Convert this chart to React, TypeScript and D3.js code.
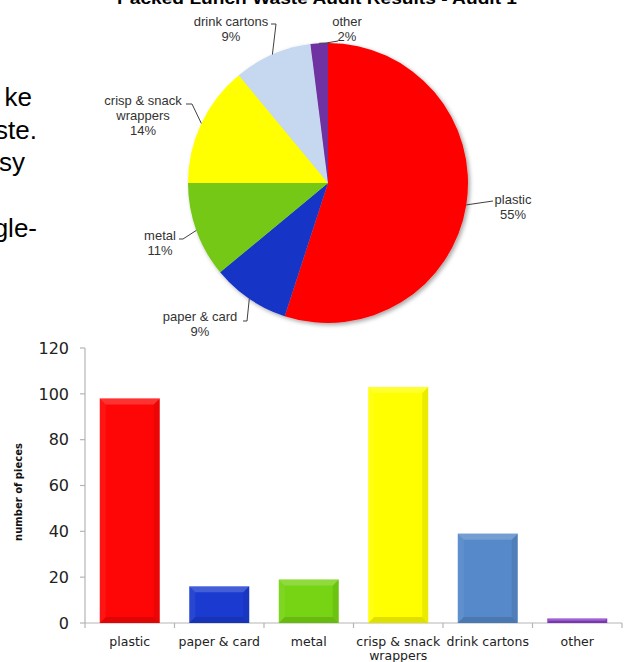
import React from "react";
import * as d3 from "d3";

// ---- data ----
const categories = [
  "plastic",
  "paper & card",
  "metal",
  "crisp & snack wrappers",
  "drink cartons",
  "other",
];
const pieShares = [55, 9, 11, 14, 9, 2]; // percent, Audit 1
const barCounts = [98, 16, 19, 103, 39, 2]; // number of pieces
const yTicks = [0, 20, 40, 60, 80, 100, 120];
const pieLabelNames = [
  ["plastic"],
  ["paper & card"],
  ["metal"],
  ["crisp & snack", "wrappers"],
  ["drink cartons"],
  ["other"],
];
const barLabelLines = [
  ["plastic"],
  ["paper & card"],
  ["metal"],
  ["crisp & snack", "wrappers"],
  ["drink cartons"],
  ["other"],
];
const sideFragments = ["ke", "ste.", "sy", "gle-"];
const pieTitle = "Packed Lunch Waste Audit Results - Audit 1";
const yTitle = "number of pieces";

const pieColors = ["#ff0000", "#1634c6", "#74c814", "#ffff00", "#c6d8ef", "#7030a0"];
const barColors = ["#ff0606", "#1b3bd0", "#77d414", "#ffff00", "#5689c9", "#8a3fc8"];

// ---- layout ----
const W = 628;
const H = 662;
const pieCenter = { x: 328, y: 183 };
const pieRadius = 140;

// label anchor + leader elbow points (after the slice edge point)
const pieLabelLayout = [
  { x: 513, y: 204, leader: [[493, 201]] },
  { x: 200, y: 321, leader: [[247, 321], [243, 321]] },
  { x: 160, y: 240, leader: [[183, 239], [179, 239]] },
  { x: 143, y: 105, leader: [[192, 104], [186, 104]] },
  { x: 231, y: 26, leader: [[276, 24], [271, 24]] },
  { x: 347, y: 26, leader: [[326, 43], [338, 41]] },
];

const sideLayout = [
  { x: 32, y: 106 },
  { x: 37, y: 139 },
  { x: 25, y: 171 },
  { x: 37, y: 237 },
];

const plot = { left: 85, right: 622, top: 348, bottom: 623 };

// soft bevel like the office chart bars
function bevel(x: number, y: number, w: number, h: number) {
  const b = Math.min(6, h / 2, w / 2);
  const pts = (a: number[][]) => a.map((p) => p.join(",")).join(" ");
  return [
    { p: pts([[x, y], [x + w, y], [x + w - b, y + b], [x + b, y + b]]), f: "#fff", o: 0.18 },
    { p: pts([[x, y], [x + b, y + b], [x + b, y + h - b], [x, y + h]]), f: "#fff", o: 0.06 },
    { p: pts([[x + w, y], [x + w, y + h], [x + w - b, y + h - b], [x + w - b, y + b]]), f: "#000", o: 0.08 },
    { p: pts([[x, y + h], [x + b, y + h - b], [x + w - b, y + h - b], [x + w, y + h]]), f: "#000", o: 0.12 },
  ];
}

export default function App() {
  // pie
  const pie = d3
    .pie<number>()
    .sort(null)
    .value((d) => d)
    .startAngle(0)
    .endAngle(Math.PI * 2);
  const arcs = pie(pieShares);
  const arc = d3.arc<d3.PieArcDatum<number>>().innerRadius(0).outerRadius(pieRadius);
  const edge = d3.arc<d3.PieArcDatum<number>>().innerRadius(pieRadius).outerRadius(pieRadius);

  // bars
  const x = d3
    .scaleBand<string>()
    .domain(categories)
    .range([plot.left, plot.right])
    .paddingInner(0.33)
    .paddingOuter(0.165);
  const y = d3.scaleLinear().domain([0, 120]).range([plot.bottom, plot.top]);
  const step = x.step();
  const boundaries = d3.range(categories.length + 1).map((i) => plot.left + i * step);

  const line = d3.line();

  return (
    <svg
      width={W}
      height={H}
      style={{ position: "absolute", left: 0, top: 0, background: "#fff" }}
    >
      <defs>
        <filter id="pieShadow" x="-10%" y="-10%" width="130%" height="130%">
          <feDropShadow dx="2" dy="2" stdDeviation="2" floodColor="#000" floodOpacity="0.35" />
        </filter>
      </defs>

      {/* clipped slide text on the left */}
      <g fontFamily="'Liberation Sans', Arial, sans-serif" fontSize={26} fill="#000">
        {sideFragments.map((t, i) => (
          <text key={t} x={sideLayout[i].x} y={sideLayout[i].y} textAnchor="end">
            {t}
          </text>
        ))}
      </g>

      {/* pie title (cut off at top) */}
      <text
        x={317}
        y={4}
        textAnchor="middle"
        fontFamily="'Liberation Sans', Arial, sans-serif"
        fontWeight="bold"
        fontSize={16}
        textLength={400}
        lengthAdjust="spacingAndGlyphs"
        fill="#000"
      >
        {pieTitle}
      </text>

      {/* pie */}
      <g transform={`translate(${pieCenter.x},${pieCenter.y})`}>
        <g filter="url(#pieShadow)">
          {arcs.map((a, i) => (
            <path key={i} d={arc(a) || ""} fill={pieColors[i]} />
          ))}
        </g>
      </g>

      {/* pie labels + leaders */}
      <g fontFamily="'Liberation Sans', Arial, sans-serif" fontSize={13} fill="#333">
        {arcs.map((a, i) => {
          const [ex, ey] = edge.centroid(a);
          const L = pieLabelLayout[i];
          const pts: [number, number][] = [
            [pieCenter.x + ex, pieCenter.y + ey],
            ...(L.leader as [number, number][]),
          ];
          const lines = [...pieLabelNames[i], `${pieShares[i]}%`];
          return (
            <g key={i}>
              <path d={line(pts) || ""} fill="none" stroke="#404040" strokeWidth={1} />
              {lines.map((t, j) => (
                <text key={j} x={L.x} y={L.y + j * 15} textAnchor="middle">
                  {t}
                </text>
              ))}
            </g>
          );
        })}
      </g>

      {/* bar chart axes */}
      <g stroke="#b5b5b5" strokeWidth={1.2}>
        <line x1={plot.left} x2={plot.left} y1={plot.top} y2={plot.bottom} />
        {yTicks.map((t) => (
          <line key={t} x1={plot.left - 5} x2={plot.left} y1={y(t)} y2={y(t)} />
        ))}
        <line x1={plot.left} x2={plot.right} y1={plot.bottom} y2={plot.bottom} />
        {boundaries.map((b, i) => (
          <line key={i} x1={b} x2={b} y1={plot.bottom} y2={plot.bottom + 5} />
        ))}
      </g>

      <g fontFamily="'DejaVu Sans', Verdana, sans-serif" fontSize={16} fill="#222">
        {yTicks.map((t) => (
          <text key={t} x={69} y={y(t)} dy="0.36em" textAnchor="end">
            {t}
          </text>
        ))}
      </g>

      <text
        transform={`translate(22,492) rotate(-90)`}
        textAnchor="middle"
        fontFamily="'DejaVu Sans', Verdana, sans-serif"
        fontWeight="bold"
        fontSize={10}
        fill="#111"
      >
        {yTitle}
      </text>

      {/* bars */}
      {categories.map((c, i) => {
        const bx = x(c) as number;
        const bw = x.bandwidth();
        const by = y(barCounts[i]);
        const bh = plot.bottom - by;
        return (
          <g key={c}>
            <rect x={bx} y={by} width={bw} height={bh} fill={barColors[i]} />
            {bevel(bx, by, bw, bh).map((s, k) => (
              <polygon key={k} points={s.p} fill={s.f} fillOpacity={s.o} />
            ))}
          </g>
        );
      })}

      {/* category labels */}
      <g fontFamily="'DejaVu Sans', Verdana, sans-serif" fontSize={12.5} fill="#222">
        {categories.map((c, i) =>
          barLabelLines[i].map((t, j) => (
            <text
              key={`${c}-${j}`}
              x={(x(c) as number) + x.bandwidth() / 2}
              y={646 + j * 14}
              textAnchor="middle"
            >
              {t}
            </text>
          ))
        )}
      </g>
    </svg>
  );
}
